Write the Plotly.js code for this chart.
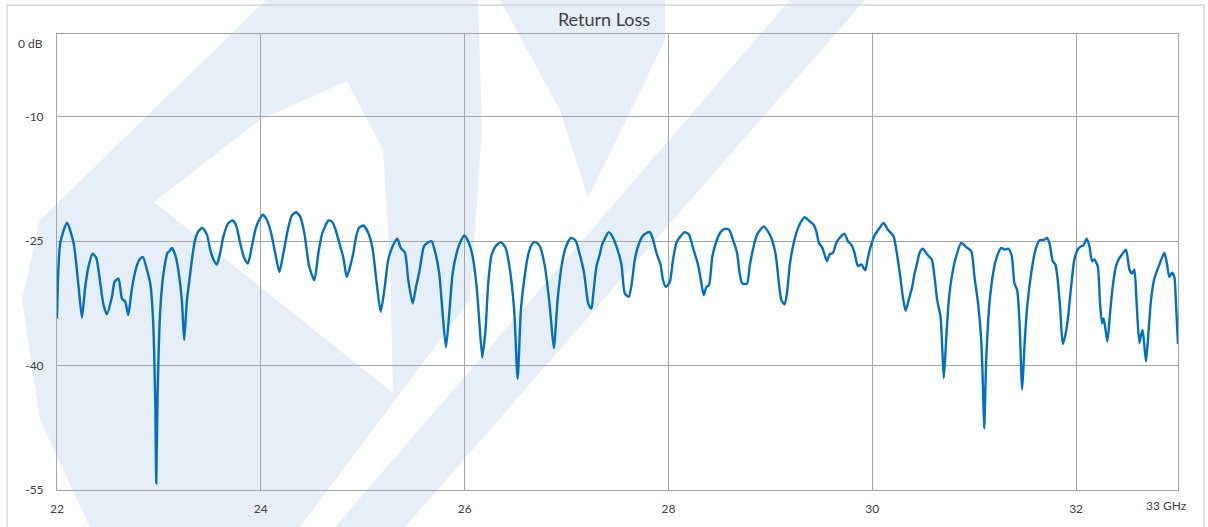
<!DOCTYPE html>
<html>
<head>
<meta charset="utf-8">
<script src="https://cdn.plot.ly/plotly-3.0.1.min.js"></script>
<style>
html,body{margin:0;padding:0;background:#fff;overflow:hidden;}
#chart{width:1208px;height:527px;}
</style>
</head>
<body>
<div id="chart"></div>
<script>
// Frequency (GHz)
const freqGHz = [22.000,22.032,22.098,22.163,22.212,22.245,22.277,22.310,22.349,22.385,22.425,22.457,22.490,22.539,22.565,22.604,22.637,22.670,22.699,22.735,22.777,22.810,22.843,22.882,22.915,22.941,22.964,22.974,22.986,23.013,23.045,23.084,23.104,23.127,23.160,23.192,23.225,23.248,23.275,23.307,23.333,23.356,23.388,23.427,23.471,23.503,23.535,23.569,23.601,23.633,23.682,23.722,23.755,23.797,23.836,23.873,23.912,23.951,23.993,24.020,24.059,24.101,24.147,24.182,24.222,24.265,24.304,24.346,24.385,24.427,24.474,24.525,24.565,24.604,24.663,24.696,24.728,24.777,24.810,24.843,24.869,24.908,24.936,24.963,25.006,25.055,25.098,25.137,25.176,25.212,25.251,25.294,25.339,25.373,25.415,25.447,25.490,25.523,25.555,25.601,25.633,25.676,25.709,25.751,25.784,25.817,25.849,25.882,25.922,25.961,25.996,26.035,26.078,26.118,26.143,26.173,26.206,26.231,26.265,26.304,26.356,26.402,26.444,26.486,26.520,26.552,26.584,26.624,26.663,26.696,26.738,26.787,26.836,26.875,26.912,26.951,26.990,27.042,27.088,27.130,27.173,27.206,27.219,27.245,27.261,27.294,27.326,27.349,27.415,27.457,27.500,27.539,27.572,27.611,27.637,27.670,27.702,27.745,27.784,27.817,27.849,27.882,27.922,27.947,27.974,28.013,28.045,28.078,28.118,28.160,28.202,28.241,28.290,28.324,28.346,28.373,28.398,28.431,28.471,28.510,28.552,28.594,28.633,28.673,28.699,28.725,28.771,28.797,28.829,28.869,28.934,28.976,29.010,29.042,29.059,29.084,29.108,29.140,29.163,29.189,29.222,29.255,29.294,29.336,29.378,29.424,29.451,29.476,29.510,29.555,29.581,29.614,29.647,29.679,29.728,29.761,29.794,29.826,29.859,29.892,29.931,29.957,29.990,30.022,30.055,30.111,30.153,30.209,30.235,30.275,30.300,30.327,30.359,30.392,30.415,30.441,30.464,30.496,30.539,30.584,30.611,30.637,30.670,30.686,30.702,30.725,30.751,30.780,30.824,30.873,30.922,30.971,31.003,31.042,31.069,31.084,31.098,31.118,31.150,31.192,31.225,31.265,31.297,31.336,31.369,31.395,31.422,31.444,31.471,31.493,31.520,31.559,31.598,31.640,31.689,31.714,31.738,31.771,31.797,31.820,31.843,31.869,31.895,31.918,31.951,31.983,32.016,32.049,32.072,32.104,32.131,32.157,32.179,32.212,32.235,32.255,32.271,32.307,32.333,32.359,32.392,32.425,32.451,32.490,32.523,32.549,32.572,32.594,32.621,32.637,32.653,32.686,32.712,32.735,32.768,32.790,32.824,32.866,32.890,32.915,32.941,32.964,32.980,33.000];

// Return loss (dB)
const returnLossDb = [-34.3,-25.2,-22.8,-25.2,-30.5,-34.2,-30.5,-28.0,-26.5,-27.0,-30.1,-32.7,-33.8,-31.7,-29.9,-29.5,-31.9,-32.3,-33.9,-30.7,-28.2,-27.2,-26.9,-28.4,-30.1,-34.1,-44.1,-54.2,-44.1,-33.3,-28.9,-26.4,-26.2,-25.8,-26.6,-28.6,-32.1,-36.9,-32.1,-28.9,-26.4,-24.8,-23.8,-23.4,-24.2,-26.0,-27.2,-27.8,-26.4,-24.4,-22.8,-22.5,-23.0,-25.2,-27.0,-27.7,-25.6,-23.4,-22.2,-21.8,-22.4,-24.0,-26.8,-28.7,-26.4,-23.6,-21.9,-21.5,-22.0,-24.0,-28.0,-29.7,-26.4,-24.0,-22.5,-22.6,-23.4,-25.5,-27.0,-29.3,-28.4,-26.4,-24.4,-23.4,-23.1,-24.0,-26.0,-30.1,-33.5,-30.9,-27.2,-25.6,-24.7,-25.8,-26.4,-29.7,-32.5,-30.5,-28.7,-25.6,-25.2,-25.0,-26.2,-28.9,-33.7,-37.8,-33.7,-28.9,-26.4,-25.0,-24.3,-25.0,-26.8,-30.5,-34.5,-39.0,-35.5,-30.1,-26.6,-25.6,-25.1,-25.8,-28.4,-33.3,-41.6,-33.3,-29.7,-26.6,-25.3,-25.1,-25.6,-28.0,-32.9,-37.9,-32.1,-28.0,-25.8,-24.6,-24.9,-26.6,-28.9,-32.1,-32.7,-33.1,-31.5,-28.0,-26.6,-25.4,-23.9,-24.6,-26.0,-27.8,-31.3,-31.7,-30.3,-27.2,-25.6,-24.4,-24.0,-23.9,-24.8,-26.4,-27.8,-29.7,-30.5,-29.9,-27.2,-25.2,-24.4,-23.9,-24.2,-25.8,-27.8,-30.1,-31.5,-30.5,-30.3,-26.8,-25.0,-23.9,-23.5,-23.6,-24.8,-26.4,-28.9,-30.1,-30.1,-28.0,-26.0,-24.2,-23.2,-23.8,-24.6,-26.0,-27.2,-30.1,-32.1,-32.6,-31.3,-28.0,-25.6,-24.0,-22.8,-22.1,-22.5,-23.0,-23.8,-25.2,-25.8,-27.4,-26.6,-26.4,-25.2,-24.6,-24.1,-25.0,-25.4,-26.4,-28.0,-27.8,-28.5,-27.0,-25.4,-24.3,-23.7,-22.8,-23.6,-24.4,-26.0,-29.3,-31.7,-33.4,-32.0,-30.5,-28.9,-27.6,-26.4,-25.9,-26.6,-27.2,-29.3,-32.1,-34.1,-37.7,-41.5,-36.9,-32.1,-29.3,-26.8,-25.2,-25.7,-26.2,-29.3,-32.9,-36.9,-41.7,-47.6,-39.3,-32.5,-28.4,-26.8,-25.8,-26.0,-25.9,-26.8,-30.1,-30.9,-34.5,-42.9,-37.7,-32.9,-28.9,-26.2,-24.9,-24.8,-24.6,-25.2,-27.4,-27.8,-29.7,-32.9,-37.4,-36.3,-34.5,-30.5,-27.2,-26.0,-25.6,-25.5,-24.7,-25.6,-27.4,-27.2,-28.0,-32.5,-34.9,-34.3,-37.1,-33.7,-30.5,-28.0,-27.0,-26.6,-26.0,-28.4,-28.9,-28.4,-32.5,-37.3,-36.3,-35.7,-39.5,-35.7,-32.1,-29.5,-28.7,-27.6,-26.4,-27.6,-29.3,-28.8,-29.3,-32.5,-37.4];

const xTickVals = [22, 24, 26, 28, 30, 32];
const xTickText = ['22', '24', '26', '28', '30', '32'];
const yTickVals = [-10, -25, -40, -55];
const yTickText = ['-10', '-25', '-40', '-55'];
const chartTitle = 'Return Loss';
const xEndLabel = '33 GHz';
const yTopLabel = '0 dB';

// ---- decoration helpers (pixel -> paper) ----
const W = 1208, H = 527;
const L = 57, R = 1178, T = 34, B = 490;
function px(x){ return (x - L) / (R - L); }
function py(y){ return (B - y) / (B - T); }
function path(pts){
  return pts.map((p,i)=> (i?'L':'M') + px(p[0]).toFixed(4) + ',' + py(p[1]).toFixed(4)).join(' ') + ' Z';
}
const wm = '#E6EEF7';
const wmShapes = [
  {d: path([[266,0],[478,0],[482,130],[470,300],[300,527],[90,527],[40,420],[22,300],[40,220]]) + ' ' +
      path([[347,81],[383,150],[390,260],[393,393],[154,202],[260,120]]), evenodd:true},
  {d: path([[500,0],[665,0],[665,40],[588,198],[560,110]])},
  {d: path([[790,0],[865,0],[405,527],[335,527]])}
];
const shapes = wmShapes.map(s => ({
  type:'path', xref:'paper', yref:'paper', path:s.d, fillcolor:wm,
  line:{width:0}, layer:'below', fillrule: s.evenodd ? 'evenodd' : 'nonzero'
}));
shapes.push({type:'rect', xref:'paper', yref:'paper',
  x0:px(7), x1:px(1204), y0:py(545), y1:py(5),
  line:{color:'#C4C4C4', width:1}, fillcolor:'rgba(0,0,0,0)', layer:'above'});

const trace = {
  x: freqGHz, y: returnLossDb, type:'scatter', mode:'lines',
  line:{color:'#0070C0', width:2.4, shape:'spline', smoothing:0.6},
  hoverinfo:'skip', showlegend:false
};

const font = {family:'Lato, "Open Sans", sans-serif', color:'#404040', size:12};

const layout = {
  width:W, height:H, autosize:false,
  margin:{l:L, r:W-R, t:T, b:H-B, pad:0},
  paper_bgcolor:'#ffffff', plot_bgcolor:'rgba(0,0,0,0)',
  font: font,
  title:{text:chartTitle, xref:'container', yref:'container', x:604/W, y:1-20/H,
         xanchor:'center', yanchor:'middle', font:{family:font.family, size:18, color:'#404040'}},
  xaxis:{range:[22,33], tickvals:xTickVals, ticktext:xTickText, showgrid:true,
         gridcolor:'#A6A6A6', gridwidth:1, showline:true, linecolor:'#A6A6A6', linewidth:1,
         mirror:true, zeroline:false, ticks:'', ticklabelstandoff:8, fixedrange:true},
  yaxis:{range:[-55,0], tickvals:yTickVals, ticktext:yTickText, showgrid:true,
         gridcolor:'#A6A6A6', gridwidth:1, showline:true, linecolor:'#A6A6A6', linewidth:1,
         mirror:true, zeroline:false, ticks:'', ticklabelstandoff:10, fixedrange:true},
  shapes: shapes,
  annotations:[
    {text:yTopLabel, xref:'paper', yref:'paper', x:px(45), y:py(44), xanchor:'right', yanchor:'middle',
     showarrow:false, font:font},
    {text:xEndLabel, xref:'paper', yref:'paper', x:px(1166), y:py(505), xanchor:'center', yanchor:'middle',
     showarrow:false, font:font}
  ]
};

Plotly.newPlot('chart', [trace], layout, {displayModeBar:false, staticPlot:true});
</script>
</body>
</html>
